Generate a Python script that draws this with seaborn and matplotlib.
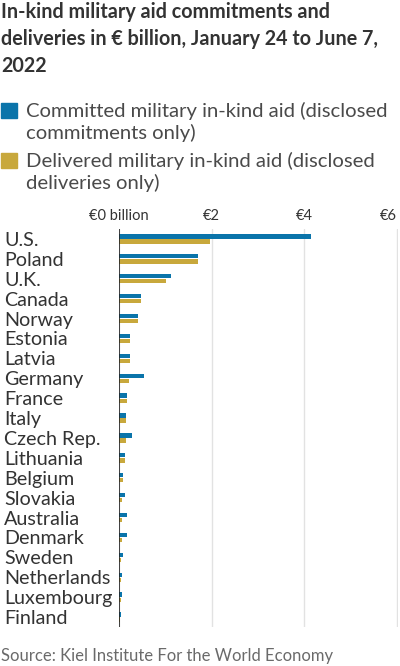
import matplotlib
matplotlib.use("Agg")
import matplotlib.pyplot as plt
import seaborn as sns
import pandas as pd
from matplotlib.patches import Rectangle

countries = ["U.S.", "Poland", "U.K.", "Canada", "Norway", "Estonia", "Latvia",
             "Germany", "France", "Italy", "Czech Rep.", "Lithuania", "Belgium",
             "Slovakia", "Australia", "Denmark", "Sweden", "Netherlands",
             "Luxembourg", "Finland"]
committed = [4.15, 1.71, 1.13, 0.47, 0.41, 0.23, 0.23, 0.55, 0.18, 0.15,
             0.27, 0.12, 0.09, 0.12, 0.18, 0.18, 0.09, 0.07, 0.07, 0.04]
delivered = [1.97, 1.71, 1.01, 0.47, 0.41, 0.23, 0.23, 0.21, 0.18, 0.15,
             0.15, 0.12, 0.09, 0.06, 0.06, 0.06, 0.05, 0.05, 0.05, 0.03]
series_names = ["Committed military in-kind aid (disclosed\ncommitments only)",
                "Delivered military in-kind aid (disclosed\ndeliveries only)"]
tick_vals = [0, 2, 4, 6]
tick_labels = ["€0 billion", "€2", "€4", "€6"]

BLUE = "#0A74AA"
GOLD = "#C8A83C"
TXT = "#333333"

df = pd.DataFrame({
    "country": countries * 2,
    "value": committed + delivered,
    "series": [series_names[0]] * len(countries) + [series_names[1]] * len(countries),
})

sns.set_style("white")
plt.rcParams["font.family"] = ["Lato", "DejaVu Sans"]

fig = plt.figure(figsize=(4.0, 6.66), dpi=100)
ax = fig.add_axes([119/400, 1 - 627/666, (398 - 119)/400, (627 - 229)/666])

sns.barplot(data=df, y="country", x="value", hue="series", orient="h",
            palette=[BLUE, GOLD], order=countries, hue_order=series_names,
            width=0.52, gap=0.17, ax=ax, legend=False, saturation=1,
            linewidth=0)

ax.set_xlim(0, 6.02)
ax.set_ylim(19.5, -0.5)
ax.set_xticks(tick_vals)
ax.set_xticklabels(tick_labels)
ax.xaxis.tick_top()
ax.tick_params(axis="x", length=0, pad=4, labelsize=10.5, labelcolor=TXT)
ax.get_xticklabels()[-1].set_horizontalalignment("right")
ax.tick_params(axis="y", length=0, pad=115 * 0.72, labelsize=14.2, labelcolor=TXT)
for lab in ax.get_yticklabels():
    lab.set_horizontalalignment("left")
ax.set_xlabel("")
ax.set_ylabel("")
for s in ax.spines.values():
    s.set_visible(False)
ax.grid(axis="x", color="#e2e2e2", linewidth=1)
ax.grid(axis="y", visible=False)
ax.set_axisbelow(True)
ax.axvline(0, color="#222222", linewidth=1.2, zorder=5)

fig.text(0.003, 1 - 2/666, "In-kind military aid commitments and\ndeliveries in € billion, January 24 to June 7,\n2022",
         ha="left", va="top", fontsize=14.2, fontweight="bold", color=TXT, linespacing=1.45)

for i, (name, col) in enumerate(zip(series_names, [BLUE, GOLD])):
    ytop = 103 + i * 50
    fig.patches.append(Rectangle((1/400, 1 - (ytop + 15)/666), 16/400, 15/666,
                                 transform=fig.transFigure, color=col, figure=fig))
    fig.text(26/400, 1 - (ytop - 1)/666, name, ha="left", va="top", fontsize=14.6,
             color="#4a4a4a", linespacing=1.25)

fig.text(0.003, 1 - 656/666, "Source: Kiel Institute For the World Economy", ha="left",
         va="center", fontsize=12, color="#6a6a6a")

fig.savefig("out.png", dpi=100)
